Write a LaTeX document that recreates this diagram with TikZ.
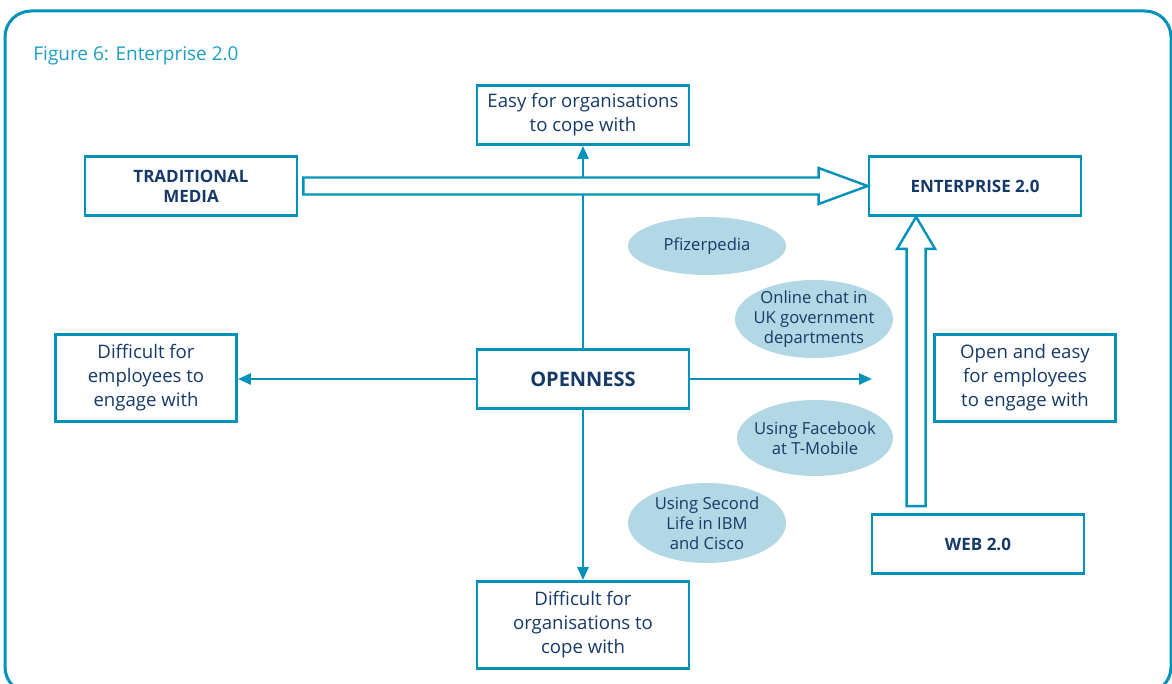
\documentclass[tikz,border=0pt]{standalone}
\usepackage{fontspec}
\setmainfont{Open Sans}
\usepackage{tikz}
\usetikzlibrary{calc,arrows.meta,shapes.geometric}
\definecolor{framecol}{RGB}{0,146,186}
\definecolor{inkblue}{RGB}{22,58,104}
\definecolor{titlecol}{RGB}{30,158,196}
\definecolor{bubblecol}{RGB}{178,216,229}

\begin{document}
\begin{tikzpicture}[x=0.5pt,y=-0.5pt]
\tikzstyle{every node}+=[inner sep=0pt]
\tikzstyle{box}=[draw=framecol, line width=1.4pt, fill=white, text=inkblue, align=center, minimum width=106pt, minimum height=29.5pt]
\tikzstyle{plain}=[font=\fontsize{9.3}{12}\selectfont]
\tikzstyle{caps}=[font=\fontsize{8.5}{10}\selectfont\bfseries]
\tikzstyle{bubble}=[ellipse, fill=bubblecol, text=inkblue, align=center, inner sep=-4pt, font=\fontsize{8.3}{10}\selectfont]
\tikzstyle{thin}=[draw=framecol, line width=1.3pt, -{Triangle[length=6.5pt,width=5.5pt]}]
\tikzstyle{hollow}=[draw=framecol, line width=1.2pt, fill=white, line join=miter]
\useasboundingbox (0,0) rectangle (1172,684);
\draw [framecol, line width=1.5pt, rounded corners=13pt] (5,11) rectangle (1171,693);
\node [anchor=west, text=titlecol, font=\fontsize{9.5}{12}\selectfont] (title) at (33,56) {Figure 6: Enterprise 2.0};
% boxes
\node [box, plain] (easy) at (583,115) {Easy for organisations\\to cope with};
\node [box, caps] (trad) at (191,186) {TRADITIONAL\\MEDIA};
\node [box, caps] (ent) at (975,186) {ENTERPRISE 2.0};
\node [box, font=\fontsize{10}{12}\selectfont\bfseries] (open) at (583,379) {OPENNESS};
\node [box, plain, minimum width=90.5pt, minimum height=43.5pt] (diffemp) at (146,378) {Difficult for\\employees to\\engage with};
\node [box, plain, minimum width=90.5pt, minimum height=43.5pt] (easyemp) at (1025,378) {Open and easy\\for employees\\to engage with};
\node [box, plain, minimum height=43.5pt] (difforg) at (583,625) {Difficult for\\organisations to\\cope with};
\node [box, caps] (web) at (978,544) {WEB 2.0};
% bubbles
\node [bubble, minimum width=79pt, minimum height=29pt] (pfz) at (707,246) {Pfizerpedia};
\node [bubble, minimum width=79pt, minimum height=39pt] (chat) at (814,319) {Online chat in\\UK government\\departments};
\node [bubble, minimum width=78pt, minimum height=38pt] (fb) at (815,438) {Using Facebook\\at T-Mobile};
\node [bubble, minimum width=79pt, minimum height=40pt] (sl) at (707,523) {Using Second\\Life in IBM\\and Cisco};
% openness arrows
\coordinate (rend) at (872,379);
\draw [thin] (open.north) -- (easy.south);
\draw [thin] (open.south) -- (difforg.north);
\draw [thin] (open.west) -- (open.west -| diffemp.east);
\draw [thin] (open.east) -- (rend);
% hollow arrows
\draw [hollow] ($(trad.east)+(5,-8.5)$) -- ($(ent.west)+(-49,-8.5)$) -- ($(ent.west)+(-49,-18)$) -- (ent.west)
  -- ($(ent.west)+(-49,18)$) -- ($(ent.west)+(-49,8.5)$) -- ($(trad.east)+(5,8.5)$) -- cycle;
\coordinate (wtip) at ($(ent.south west)+(48.5,0)$);
\coordinate (wbase) at ($(wtip |- web.north)+(0,-7)$);
\draw [hollow] ($(wbase)+(-9.5,0)$) -- ($(wtip)+(-9.5,32)$) -- ($(wtip)+(-19,32)$) -- (wtip)
  -- ($(wtip)+(19,32)$) -- ($(wtip)+(9.5,32)$) -- ($(wbase)+(9.5,0)$) -- cycle;
\end{tikzpicture}
\end{document}
